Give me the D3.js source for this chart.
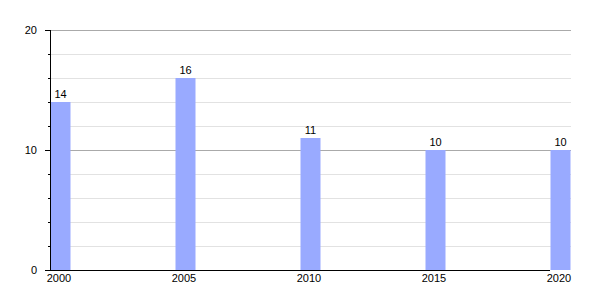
<!DOCTYPE html>
<html>
<head>
<meta charset="utf-8">
<script src="https://cdn.jsdelivr.net/npm/d3@7"></script>
<style>
  body { margin: 0; background: #fff; }
  svg text { font-family: "Liberation Sans", Arial, sans-serif; font-size: 11px; fill: #000; }
</style>
</head>
<body>
<svg id="chart" width="600" height="300"></svg>
<script>
// ============================================================
// DATA
// ============================================================
const years = [2000, 2005, 2010, 2015, 2020];
const values = [14, 16, 11, 10, 10];
const majorTicks = [0, 10, 20];
const minorTicks = [2, 4, 6, 8, 12, 14, 16, 18];

// ============================================================
// LAYOUT
// ============================================================
const svg = d3.select('#chart');
const plotL = 50, plotR = 571, plotT = 30, plotB = 270;
const barW = 20;

const x = d3.scaleLinear().domain([2000, 2020]).range([plotL, plotL + 500]);
const y = d3.scaleLinear().domain([0, 20]).range([plotB, plotT]);

// minor gridlines
svg.append('g').selectAll('line').data(minorTicks).join('line')
  .attr('x1', plotL).attr('x2', plotR)
  .attr('y1', d => y(d) + 0.5).attr('y2', d => y(d) + 0.5)
  .attr('stroke', '#e2e2e2').attr('stroke-width', 1);

// major gridlines
svg.append('g').selectAll('line').data(majorTicks.filter(d => d > 0)).join('line')
  .attr('x1', plotL).attr('x2', plotR)
  .attr('y1', d => y(d) + 0.5).attr('y2', d => y(d) + 0.5)
  .attr('stroke', '#aaaaaa').attr('stroke-width', 1);

// bars
svg.append('g').selectAll('rect').data(years).join('rect')
  .attr('x', d => x(d) + 0.5)
  .attr('y', (d, i) => y(values[i]))
  .attr('width', barW)
  .attr('height', (d, i) => plotB - y(values[i]))
  .attr('fill', '#99aaff');

// value labels
svg.append('g').selectAll('text').data(years).join('text')
  .attr('x', d => x(d) + barW / 2 + 0.5)
  .attr('y', (d, i) => y(values[i]) - 4)
  .attr('text-anchor', 'middle')
  .text((d, i) => values[i]);

// y axis line and ticks
svg.append('line')
  .attr('x1', plotL + 0.5).attr('x2', plotL + 0.5)
  .attr('y1', plotT).attr('y2', plotB + 1)
  .attr('stroke', '#000');
svg.append('g').selectAll('line').data(minorTicks).join('line')
  .attr('x1', plotL - 2).attr('x2', plotL)
  .attr('y1', d => y(d) + 0.5).attr('y2', d => y(d) + 0.5)
  .attr('stroke', '#000');
svg.append('g').selectAll('line').data(majorTicks).join('line')
  .attr('x1', plotL - 5).attr('x2', plotL)
  .attr('y1', d => y(d) + 0.5).attr('y2', d => y(d) + 0.5)
  .attr('stroke', '#000');
svg.append('g').selectAll('text').data(majorTicks).join('text')
  .attr('x', plotL - 13)
  .attr('y', d => y(d) + 4)
  .attr('text-anchor', 'end')
  .text(d => d);

// x axis line
svg.append('line')
  .attr('x1', plotL - 5).attr('x2', x(2020))
  .attr('y1', plotB + 0.5).attr('y2', plotB + 0.5)
  .attr('stroke', '#000');

// x labels
svg.append('g').selectAll('text').data(years).join('text')
  .attr('x', d => x(d) + barW / 2 - 1)
  .attr('y', plotB + 12)
  .attr('text-anchor', 'middle')
  .text(d => d);
</script>
</body>
</html>
